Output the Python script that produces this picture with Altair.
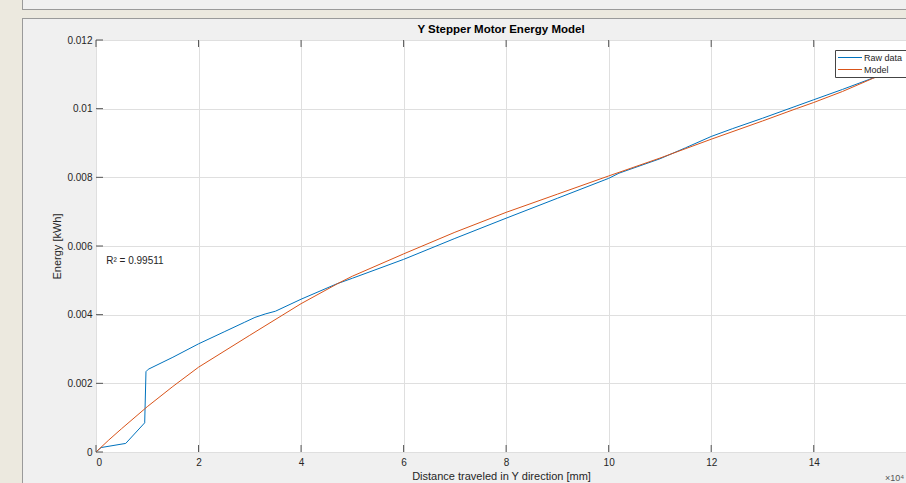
import altair as alt
import pandas as pd

# ---- data ----
raw_x = [0, 0.1, 0.58, 0.95, 0.975, 1.02, 1.5, 2.0, 2.5, 2.9, 3.1, 3.3, 3.5, 4.0, 4.7,
         5.0, 6.0, 7.0, 8.0, 9.0, 10.0, 10.2, 11.0, 11.5, 12.0, 12.42, 13.0, 14.0,
         14.56, 15.15, 15.8]
raw_y = [0, 0.00013, 0.00025, 0.00085, 0.00234, 0.00241, 0.00276, 0.00315, 0.00350,
         0.00378, 0.00392, 0.00402, 0.00410, 0.00445, 0.00490, 0.00506, 0.00561,
         0.00622, 0.00681, 0.00739, 0.00797, 0.00812, 0.00854, 0.00886, 0.00919,
         0.00942, 0.00972, 0.01026, 0.01056, 0.01089, 0.01125]

model_x = [0, 0.25, 0.5, 1, 1.5, 2, 3, 4, 4.72, 5, 6, 7, 8, 9, 10, 11, 12, 13, 13.66,
           14, 14.56, 15.15, 15.8]
model_y = [0, 0.00035, 0.00068, 0.00132, 0.00191, 0.00247, 0.00340, 0.00432, 0.00491,
           0.00512, 0.00577, 0.00640, 0.00698, 0.00751, 0.00804, 0.00856, 0.00911,
           0.00964, 0.01000, 0.01018, 0.01050, 0.01088, 0.01125]

x_ticks = [0, 2, 4, 6, 8, 10, 12, 14]
y_ticks = [0, 0.002, 0.004, 0.006, 0.008, 0.01, 0.012]

series_names = ["Raw data", "Model"]
series_colors = ["#0072BD", "#D95319"]

title_text = "Y Stepper Motor Energy Model"
x_title = "Distance traveled in Y direction [mm]"
y_title = "Energy [kWh]"
r2_text = "R\u00b2 = 0.99511"
exp_text = "\u00d710\u2074"

FONT = "Liberation Sans"
FRAME = "#555555"
TXT = "#262626"
W, H = 810, 412

raw_df = pd.DataFrame({"x": raw_x, "y": raw_y})
model_df = pd.DataFrame({"x": model_x, "y": model_y})
one = pd.DataFrame({"k": [0]})

xs = alt.Scale(domain=[0, 15.8], nice=False, zero=False)
ys = alt.Scale(domain=[0, 0.012], nice=False, zero=False)
X = alt.X("x:Q", scale=xs, axis=alt.Axis(values=x_ticks, title=x_title, grid=True,
          ticks=False, tickSize=0, domain=False, labelPadding=5, titlePadding=3,
          format="~g"))
Y = alt.Y("y:Q", scale=ys, axis=alt.Axis(values=y_ticks, title=y_title, grid=True,
          ticks=False, tickSize=0, domain=False, labelPadding=4, titlePadding=4,
          format="~g"))

# figure decorations (MATLAB window pieces) in the padding area
beige = "#ECE9DF"
strip_left = alt.Chart(one).mark_rect(color=beige).encode(
    x=alt.value(-96), x2=alt.value(-74), y=alt.value(-40), y2=alt.value(H + 31))
strip_top = alt.Chart(one).mark_rect(color=beige).encode(
    x=alt.value(-74), x2=alt.value(W), y=alt.value(-30), y2=alt.value(-22))
border_col = "#9A9A9A"
b1 = alt.Chart(one).mark_rule(color=border_col, strokeWidth=1).encode(
    x=alt.value(-74), x2=alt.value(W), y=alt.value(-30.5))
b2 = alt.Chart(one).mark_rule(color=border_col, strokeWidth=1).encode(
    x=alt.value(-74), x2=alt.value(W), y=alt.value(-21.5))
b3 = alt.Chart(one).mark_rule(color=border_col, strokeWidth=1).encode(
    x=alt.value(-73.5), y=alt.value(-40), y2=alt.value(-30))
b4 = alt.Chart(one).mark_rule(color=border_col, strokeWidth=1).encode(
    x=alt.value(-73.5), y=alt.value(-22), y2=alt.value(H + 31))
title = alt.Chart(one).mark_text(align="center", baseline="middle", font=FONT,
                                 fontSize=11.5, fontWeight="bold", color="#000000",
                                 text=title_text).encode(
    x=alt.value(W / 2), y=alt.value(-10))

raw_line = alt.Chart(raw_df).mark_line(strokeWidth=1, color=series_colors[0]).encode(x=X, y=Y)
model_line = alt.Chart(model_df).mark_line(strokeWidth=1, color=series_colors[1]).encode(x=X, y=Y)

xt = pd.DataFrame({"x": x_ticks})
yt = pd.DataFrame({"y": y_ticks})
xtick_b = alt.Chart(xt).mark_rule(color=FRAME).encode(x=X, y=alt.value(H - 7), y2=alt.value(H))
xtick_t = alt.Chart(xt).mark_rule(color=FRAME).encode(x=X, y=alt.value(0), y2=alt.value(7))
ytick_l = alt.Chart(yt).mark_rule(color=FRAME).encode(y=Y, x=alt.value(0), x2=alt.value(7))

r2 = alt.Chart(pd.DataFrame({"x": [0.2], "y": [0.00555], "t": [r2_text]})).mark_text(
    align="left", baseline="middle", font=FONT, fontSize=10, color=TXT).encode(
    x=X, y=Y, text="t:N")

# legend box
leg_box = alt.Chart(one).mark_rect(fill="white", stroke="#444444", strokeWidth=1).encode(
    x=alt.value(739.5), x2=alt.value(840), y=alt.value(10.5), y2=alt.value(37.5))
leg_df = pd.DataFrame({"name": series_names, "col": series_colors, "row": [0, 1]})
leg_lines = alt.Chart(leg_df).mark_rule(strokeWidth=1).encode(
    x=alt.value(742), x2=alt.value(766),
    y=alt.Y("row:Q", scale=alt.Scale(domain=[0, 1], range=[17.5, 29.5]), axis=None),
    color=alt.Color("col:N", scale=None))
leg_text = alt.Chart(leg_df).mark_text(align="left", baseline="middle", font=FONT,
                                       fontSize=9, color=TXT).encode(
    x=alt.value(768),
    y=alt.Y("row:Q", scale=alt.Scale(domain=[0, 1], range=[17.5, 29.5]), axis=None),
    text="name:N")

exp = alt.Chart(one).mark_text(align="left", baseline="middle", font=FONT, fontSize=9,
                               color="#555555", text=exp_text).encode(
    x=alt.value(789), y=alt.value(H + 26))

main = alt.layer(raw_line, model_line, xtick_b, xtick_t, ytick_l, r2)
decor = alt.layer(strip_left, strip_top, b1, b2, b3, b4, title, exp)
legend = alt.layer(leg_box, leg_lines, leg_text).resolve_scale(y="independent")

chart = alt.layer(decor, main, legend).resolve_scale(y="independent").properties(
    width=W, height=H,
    autosize=alt.AutoSizeParams(type="none"),
    padding={"left": 96, "top": 40, "right": 0, "bottom": 31},
).configure(background="#F0F0F0").configure_view(
    fill="white", stroke=FRAME, strokeWidth=1
).configure_axis(
    labelFont=FONT, titleFont=FONT, labelFontSize=10, titleFontSize=11,
    labelColor=TXT, titleColor=TXT, titleFontWeight="normal",
    gridColor="#DFDFDF", gridWidth=1
)

chart.save("out.html", embed_options={"renderer": "svg", "actions": False})
